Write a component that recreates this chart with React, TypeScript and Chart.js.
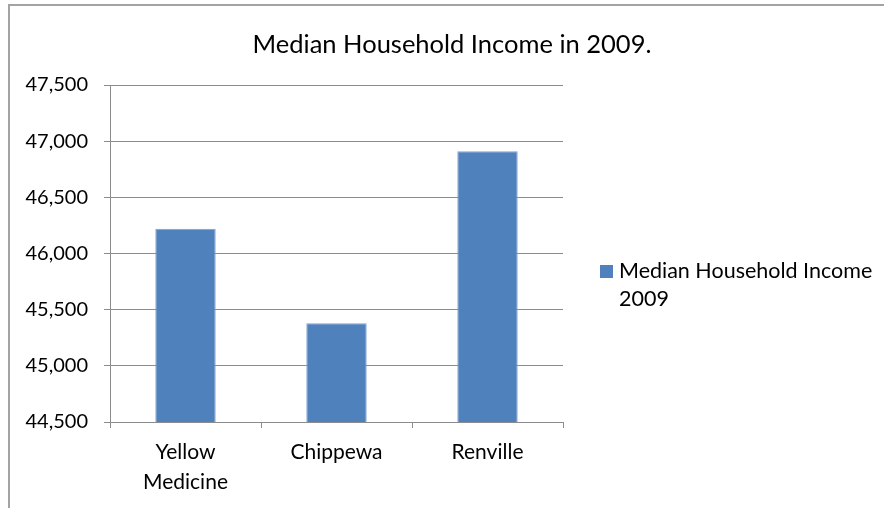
import React, { useEffect, useRef } from "react";
import { Chart, registerables } from "chart.js";

Chart.register(...registerables);

const TITLE = "Median Household Income in 2009.";
const CATEGORIES: (string | string[])[] = [["Yellow", "Medicine"], "Chippewa", "Renville"];
const SERIES_LABEL = "Median Household Income 2009";
const INCOME_2009 = [46220, 45380, 46910];
const Y_MIN = 44500;
const Y_MAX = 47500;
const Y_STEP = 500;

const BAR_COLOR = "#4F81BD";
const GRID_COLOR = "#8c8c8c";
const FONT = "Lato";

export default function App() {
  const ref = useRef<HTMLCanvasElement | null>(null);

  useEffect(() => {
    if (!ref.current) return;
    const overlay = {
      id: "overlay",
      afterDraw(chart: any) {
        const ctx = chart.ctx;
        ctx.save();
        ctx.fillStyle = "#000";
        ctx.textBaseline = "middle";
        ctx.textAlign = "center";
        ctx.font = `25.5px ${FONT}`;
        ctx.fillText(TITLE, 452, 45);
        // legend
        const ds = chart.data.datasets[0];
        ctx.fillStyle = ds.backgroundColor;
        ctx.fillRect(600, 265, 13, 13);
        ctx.fillStyle = "#000";
        ctx.textAlign = "left";
        ctx.font = `21.5px ${FONT}`;
        const label: string = ds.label;
        const idx = label.lastIndexOf(" ");
        const lines = [label.slice(0, idx), label.slice(idx + 1)];
        lines.forEach((l, i) => ctx.fillText(l, 619, 271 + i * 28));
        ctx.restore();
      },
    };
    const chart = new Chart(ref.current, {
      type: "bar",
      data: {
        labels: CATEGORIES,
        datasets: [
          {
            label: SERIES_LABEL,
            data: INCOME_2009,
            backgroundColor: BAR_COLOR,
            borderColor: "#7fa2cf",
            borderWidth: 1,
            barPercentage: 0.4,
            categoryPercentage: 1,
          },
        ],
      },
      options: {
        responsive: false,
        animation: false,
        devicePixelRatio: 1,
        layout: { padding: { top: 85, right: 321, left: 0, bottom: 0 } },
        plugins: {
          legend: { display: false },
          title: { display: false },
          tooltip: { enabled: false },
        },
        scales: {
          x: {
            offset: true,
            grid: {
              display: true,
              offset: true,
              drawOnChartArea: false,
              drawTicks: true,
              tickLength: 6,
              color: GRID_COLOR,
              lineWidth: 1,
            },
            border: { display: true, color: GRID_COLOR, width: 1 },
            ticks: {
              color: "#000",
              font: { family: FONT, size: 21, lineHeight: 1.4 },
              padding: 10,
              maxRotation: 0,
              autoSkip: false,
            },
            afterFit(scale: any) {
              scale.height = 86;
            },
          },
          y: {
            min: Y_MIN,
            max: Y_MAX,
            grid: {
              color: GRID_COLOR,
              lineWidth: 1,
              tickLength: 6,
            },
            border: { display: true, color: GRID_COLOR, width: 1 },
            ticks: {
              stepSize: Y_STEP,
              color: "#000",
              padding: 16,
              font: { family: FONT, size: 20 },
              callback: (v: any) => Number(v).toLocaleString("en-US"),
            },
            afterFit(scale: any) {
              scale.width = 110;
            },
          },
        },
      },
      plugins: [overlay],
    });
    return () => chart.destroy();
  }, []);

  return (
    <div
      style={{
        position: "fixed",
        left: 0,
        top: 0,
        width: 884,
        height: 508,
        overflow: "hidden",
        background: "#fff",
      }}
    >
      <div
        style={{
          position: "absolute",
          left: 8,
          top: 4,
          width: 1000,
          height: 1000,
          borderTop: "2px solid #a3a3a3",
          borderLeft: "2px solid #a3a3a3",
        }}
      />
      <canvas
        ref={ref}
        width={884}
        height={508}
        style={{ position: "absolute", left: 0, top: 0, width: 884, height: 508 }}
      />
    </div>
  );
}
